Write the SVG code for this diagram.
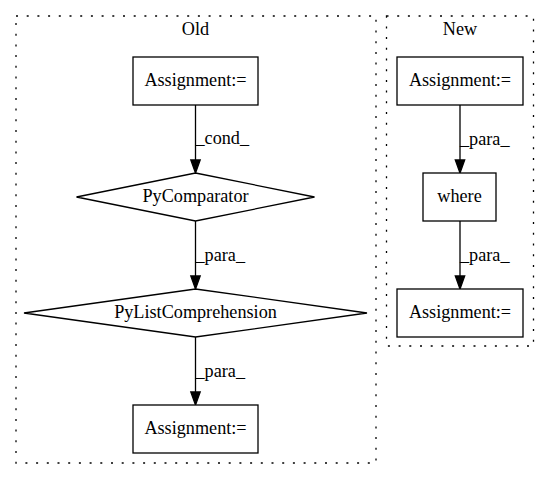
<svg xmlns="http://www.w3.org/2000/svg" width="549" height="480" viewBox="0 0 549 480">
<style>
.cluster { fill: none; stroke: #000; stroke-width: 1.3; stroke-dasharray: 2,8.7; }
.node { fill: #fff; stroke: #000; stroke-width: 1.3; }
.edge { stroke: #000; stroke-width: 1.3; fill: none; }
.head { fill: #000; stroke: #000; stroke-width: 1.3; }
.mid { text-anchor: middle; }
</style>
<rect width="549" height="480" fill="#fff"/>
<g font-family="'Liberation Serif', 'Times New Roman', 'DejaVu Serif', serif" font-size="18.2" fill="#000">
<g id="cluster_old">
<rect class="cluster" x="16" y="16" width="360" height="447"/>
<text class="mid" x="195.5" y="35">Old</text>
</g>
<g id="cluster_new">
<rect class="cluster" x="386.5" y="16" width="147" height="330"/>
<text class="mid" x="460" y="35">New</text>
</g>
<g id="connectors">
<g id="e1">
<line class="edge" x1="195.5" y1="105" x2="195.5" y2="160"/>
<polygon class="head" points="190.8,160 200.2,160 195.5,173"/>
<text x="195.5" y="144">_cond_</text>
</g>
<g id="e2">
<line class="edge" x1="195.5" y1="221" x2="195.5" y2="276"/>
<polygon class="head" points="190.8,276 200.2,276 195.5,289"/>
<text x="195.5" y="261">_para_</text>
</g>
<g id="e3">
<line class="edge" x1="195.5" y1="337" x2="195.5" y2="392"/>
<polygon class="head" points="190.8,392 200.2,392 195.5,405"/>
<text x="195.5" y="377">_para_</text>
</g>
<g id="e4">
<line class="edge" x1="460" y1="105" x2="460" y2="160"/>
<polygon class="head" points="455.3,160 464.7,160 460,173"/>
<text x="460" y="145">_para_</text>
</g>
<g id="e5">
<line class="edge" x1="460" y1="221" x2="460" y2="276"/>
<polygon class="head" points="455.3,276 464.7,276 460,289"/>
<text x="460" y="261">_para_</text>
</g>
</g>
<g id="old_assign1">
<rect class="node" x="133" y="57" width="125" height="48"/>
<text class="mid" x="195.5" y="86">Assignment:=</text>
</g>
<g id="old_pycomparator">
<polygon class="node" points="195.5,173 314.5,197 195.5,221 76.5,197"/>
<text class="mid" x="195.5" y="202">PyComparator</text>
</g>
<g id="old_pylistcomp">
<polygon class="node" points="195.5,289 367,313 195.5,337 24,313"/>
<text class="mid" x="195.5" y="318">PyListComprehension</text>
</g>
<g id="old_assign2">
<rect class="node" x="133" y="405" width="125" height="48"/>
<text class="mid" x="195.5" y="434">Assignment:=</text>
</g>
<g id="new_assign1">
<rect class="node" x="397" y="57" width="126" height="48"/>
<text class="mid" x="460" y="86">Assignment:=</text>
</g>
<g id="new_where">
<rect class="node" x="423" y="173" width="73" height="48"/>
<text class="mid" x="459.5" y="202">where</text>
</g>
<g id="new_assign2">
<rect class="node" x="397" y="289" width="126" height="48"/>
<text class="mid" x="460" y="318">Assignment:=</text>
</g>
</g>
</svg>
